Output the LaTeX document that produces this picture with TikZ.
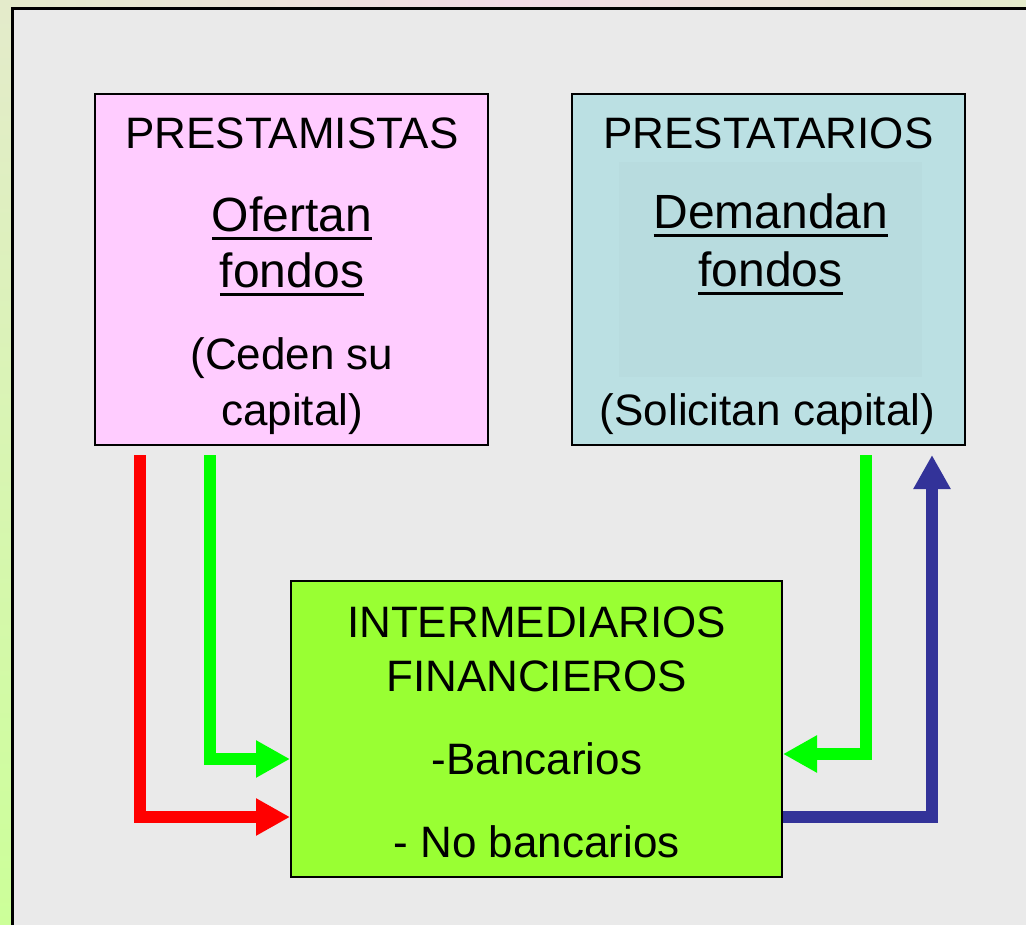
\documentclass[tikz,border=0pt]{standalone}
\usepackage{fontspec}
\setmainfont{Liberation Sans}
\usepackage{xcolor}
\definecolor{cpink}{HTML}{FFCCFF}
\definecolor{cteal}{HTML}{BBE0E3}
\definecolor{ctealin}{HTML}{B8DCDF}
\definecolor{clime}{HTML}{99FF33}
\definecolor{cgreen}{HTML}{00FF00}
\definecolor{cnavy}{HTML}{333399}
\definecolor{cslide}{HTML}{EAEAEA}
\definecolor{cedgeg}{HTML}{E4EBCB}
\definecolor{cedgep}{HTML}{F2DAE6}
\definecolor{cedgel}{HTML}{CCFF99}
\usetikzlibrary{arrows.meta,positioning}
\newcommand{\ulword}[1]{\sbox0{#1}\rlap{\raisebox{-8.5pt}{\rule{\wd0}{3pt}}}\usebox0}

\begin{document}
\begin{tikzpicture}[
  x=1pt, y=-1pt, >=Stealth,
  panel/.style={draw=black, line width=2pt, inner sep=0pt, minimum width=393pt},
  txt/.style={anchor=base, inner sep=0pt, font=\fontsize{44}{53}\selectfont},
  big/.style={anchor=base, inner sep=0pt, font=\fontsize{48}{58}\selectfont},
  flow/.style={line width=12pt, -{Triangle[length=34pt, width=35pt]}},
]
  \useasboundingbox (0,0) rectangle (1026,925);

  % slide background
  \shade[left color=cedgeg, right color=cedgeg, middle color=cedgep] (0,0) rectangle (1026,10);
  \shade[top color=cedgeg, bottom color=cedgel] (0,0) rectangle (12,925);
  \fill[cslide] (12,9) rectangle (1026,925);
  \draw[line width=3pt] (12,925) -- (12,9) -- (1026,9);

  % boxes
  \node[panel, fill=cpink, minimum height=351pt] (lenders) at (291,269.5) {};
  \node[panel, fill=cteal, minimum height=351pt] (borrowers) at (768.5,269.5) {};
  \fill[ctealin] (619,162) rectangle (922,377);
  \node[panel, fill=clime, minimum width=491pt, minimum height=296pt] (inter) at (536.5,729) {};

  \node[txt] (lendtitle) at (292,149) {PRESTAMISTAS};
  \node[big] (lendverb) at (292,232) {\ulword{Ofertan}};
  \node[big] (lendobj) at (292,288) {\ulword{fondos}};
  \node[txt] (lendnote) at (292,370) {(Ceden su};
  \node[txt] (lendnotb) at (292,425) {capital)};

  \node[txt] (borrtitle) at (768.5,149) {PRESTATARIOS};
  \node[big] (borrverb) at (771,229) {\ulword{Demandan}};
  \node[big] (borrobj) at (770.5,287) {\ulword{fondos}};
  \node[txt] (borrnote) at (767.5,425) {(Solicitan capital)};

  \node[txt] (intertitle) at (536.5,637) {INTERMEDIARIOS};
  \node[txt] (intertitlb) at (536.5,691) {FINANCIEROS};
  \node[txt] (interbank) at (537,774) {-Bancarios};
  \node[txt] (internobank) at (536.5,857) {- No bancarios};

  % flows
  \coordinate (redtop) at (140,455);
  \coordinate (limetop) at (210,455);
  \coordinate (limeback) at (866,455);
  \coordinate (navytop) at (932,455);
  \draw[flow, red] (redtop) |- ([yshift=-88pt]inter.west);
  \draw[flow, cgreen] (limetop) |- ([yshift=-30pt]inter.west);
  \draw[flow, cgreen] (limeback) |- ([yshift=-25pt]inter.east);
  \draw[flow, cnavy] ([yshift=-88pt]inter.east) -| (navytop);
\end{tikzpicture}
\end{document}
